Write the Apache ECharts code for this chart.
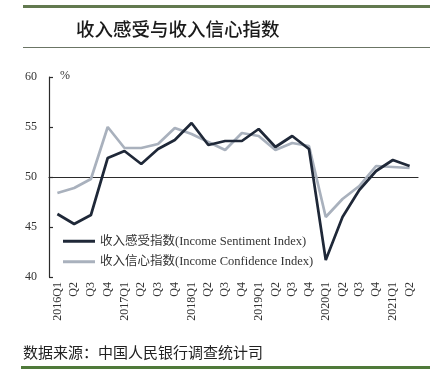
<!DOCTYPE html>
<html><head><meta charset="utf-8">
<script src="https://cdn.jsdelivr.net/npm/echarts@6/dist/echarts.min.js"></script>
<style>html,body{margin:0;padding:0;background:#fff;}#c{width:439px;height:372px;}</style>
</head><body><div id="c"></div>
<script>
var quarterLabels = ['2016Q1','Q2','Q3','Q4','2017Q1','Q2','Q3','Q4','2018Q1','Q2','Q3','Q4','2019Q1','Q2','Q3','Q4','2020Q1','Q2','Q3','Q4','2021Q1','Q2'];
var sentimentIndex = [46.3,45.3,46.2,51.9,52.6,51.3,52.8,53.7,55.4,53.2,53.6,53.6,54.8,53.0,54.1,52.8,41.7,46.0,48.7,50.6,51.7,51.1];
var confidenceIndex = [48.4,48.9,49.8,55.0,52.9,52.9,53.3,54.9,54.3,53.5,52.7,54.4,54.1,52.7,53.4,53.1,46.0,47.8,49.1,51.1,51.0,50.9];
var yTicks = {min:40, max:60, step:5};
var titleText = '收入感受与收入信心指数';
var sourceText = '数据来源：中国人民银行调查统计司';
var sentimentName = '收入感受指数(Income Sentiment Index)';
var confidenceName = '收入信心指数(Income Confidence Index)';

var chart = echarts.init(document.getElementById('c'));
var serif = '"Liberation Serif","Noto Sans CJK SC",serif';
var axisColor = '#2b2b2b';
chart.setOption({
  animation:false,
  backgroundColor:'#fff',
  graphic:[
    {type:'rect', shape:{x:23,y:5,width:407,height:3}, style:{fill:'#62794f'}},
    {type:'rect', shape:{x:23,y:47,width:407,height:1}, style:{fill:'#6b7565'}},
    {type:'text', left:76, top:20, style:{text:titleText, font:'500 18.5px "Noto Sans CJK SC"', fill:'#1a1a1a'}},
    {type:'text', left:60, top:70, style:{text:'%', font:'12px '+serif, fill:'#333'}},
    {type:'text', left:23, top:345, style:{text:sourceText, font:'15px "Noto Sans CJK SC"', fill:'#222'}},
    {type:'rect', shape:{x:21,y:366,width:409,height:3}, style:{fill:'#4f7a3a'}}
  ],
  legend:{
    data:[sentimentName, confidenceName],
    orient:'vertical', left:63, top:235, padding:0, itemWidth:32, itemHeight:3, itemGap:8,
    icon:'rect',
    textStyle:{fontFamily:serif, fontSize:12.5, color:'#333'}
  },
  grid:[
    {left:49, right:21, top:77, height:200},
    {left:49, right:21, top:77, height:100}
  ],
  xAxis:[
    {type:'category', gridIndex:0, data:quarterLabels, boundaryGap:true,
     axisLine:{show:false}, axisTick:{show:false},
     axisLabel:{interval:0, rotate:90, margin:5, fontFamily:serif, fontSize:12, color:'#333'}},
    {type:'category', gridIndex:1, data:quarterLabels, boundaryGap:true,
     axisLine:{lineStyle:{color:axisColor, width:1.2}},
     axisTick:{inside:true, length:4, interval:0, lineStyle:{color:axisColor, width:1.2}},
     axisLabel:{show:false}}
  ],
  yAxis:[
    {type:'value', gridIndex:0, min:yTicks.min, max:yTicks.max, interval:yTicks.step,
     axisLine:{show:true, lineStyle:{color:axisColor, width:1.2}},
     axisTick:{show:true, inside:true, length:4, lineStyle:{color:axisColor, width:1.2}},
     splitLine:{show:false},
     axisLabel:{margin:12, fontFamily:serif, fontSize:12, color:'#333'}},
    {type:'value', gridIndex:1, min:0, max:1, show:false}
  ],
  series:[
    {name:confidenceName, type:'line', xAxisIndex:0, yAxisIndex:0, data:confidenceIndex,
     symbol:'none', lineStyle:{color:'#a9b1bd', width:2.7}, itemStyle:{color:'#a9b1bd'}},
    {name:sentimentName, type:'line', xAxisIndex:0, yAxisIndex:0, data:sentimentIndex,
     symbol:'none', lineStyle:{color:'#1f2838', width:2.7}, itemStyle:{color:'#1f2838'}}
  ]
});
</script></body></html>
